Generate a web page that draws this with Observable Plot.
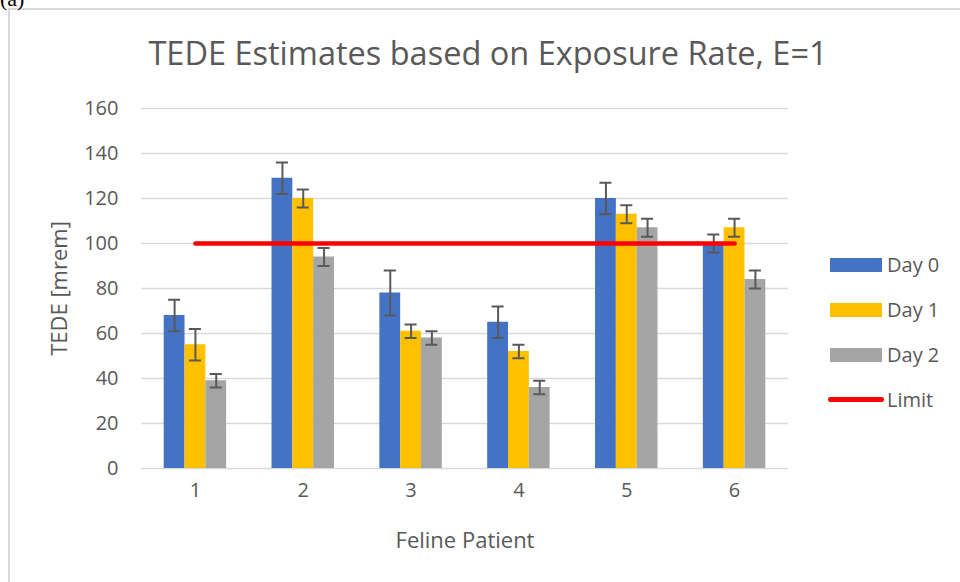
<!DOCTYPE html>
<html>
<head>
<meta charset="utf-8">
<script src="https://cdn.jsdelivr.net/npm/d3@7"></script>
<script src="https://cdn.jsdelivr.net/npm/@observablehq/plot@0.6"></script>
<style>
  html, body { margin: 0; padding: 0; background: #fff; }
  #wrap { position: relative; width: 960px; height: 582px; overflow: hidden; font-family: "Open Sans", sans-serif; color: #595959; }
  #frame { position: absolute; left: 8px; top: 8px; width: 980px; height: 600px; border-left: 2px solid #d9d9d9; border-top: 2px solid #d9d9d9; box-sizing: border-box; }
  #tag { position: absolute; left: 0px; top: -14px; font-family: "Liberation Serif", serif; font-size: 22px; color: #000; }
  #title { position: absolute; left: 0; width: 976px; top: 31px; text-align: center; font-size: 32.5px; line-height: 44px; }
  #chart { position: absolute; left: 0; top: 0; }
  #legend { position: absolute; left: 828px; top: 251px; font-size: 20px; }
  .item { position: relative; height: 45px; }
  .sw { position: absolute; left: 2px; top: 7px; width: 52px; height: 14px; }
  .ln { position: absolute; left: 0px; top: 11px; width: 56px; height: 5px; border-radius: 3px; background: #ff0000; }
  .lab { position: absolute; left: 59px; top: 0px; white-space: nowrap; line-height: 28px; }
</style>
</head>
<body>
<div id="wrap">
  <div id="frame"></div>
  <div id="tag">(a)</div>
  <div id="chart"></div>
  <div id="title">TEDE Estimates based on Exposure Rate, E=1</div>
  <div id="legend"></div>
</div>
<script>
const patients = [1, 2, 3, 4, 5, 6];
const days = ["Day 0", "Day 1", "Day 2"];
const colors = ["#4472C4", "#FFC000", "#A5A5A5"];
const day0 = [68, 129, 78, 65, 120, 100];
const day1 = [55, 120, 61, 52, 113, 107];
const day2 = [39, 94, 58, 36, 107, 84];
const err0 = [7, 7, 10, 7, 7, 4];
const err1 = [7, 4, 3, 3, 4, 4];
const err2 = [3, 4, 3, 3, 4, 4];
const limitValue = 100;
const yTicks = [0, 20, 40, 60, 80, 100, 120, 140, 160];

const barW = 0.193;
const capHalf = 0.056;
const series = [day0, day1, day2];
const errs = [err0, err1, err2];
const rows = [];
days.forEach((d, di) => {
  patients.forEach((p, pi) => {
    const c = p + (di - 1) * barW;
    rows.push({day: d, patient: p, value: series[di][pi], err: errs[di][pi],
               x1: c - barW / 2, x2: c + barW / 2, xc: c});
  });
});
const limit = [{x: patients[0], y: limitValue}, {x: patients[patients.length - 1], y: limitValue}];

const plot = Plot.plot({
  width: 960,
  height: 582,
  marginLeft: 141,
  marginRight: 172,
  marginTop: 108,
  marginBottom: 114,
  style: {fontFamily: "Open Sans, sans-serif", color: "#595959", background: "transparent"},
  x: {domain: [0.5, 6.5], axis: null},
  y: {domain: [0, 160], axis: null},
  color: {domain: days, range: colors},
  marks: [
    Plot.ruleY(yTicks, {stroke: "#d9d9d9", strokeWidth: 1.5}),
    Plot.rectY(rows, {x1: "x1", x2: "x2", y: "value", fill: "day"}),
    Plot.ruleX(rows, {x: "xc", y1: d => d.value - d.err, y2: d => d.value + d.err, stroke: "#595959", strokeWidth: 2}),
    Plot.ruleY(rows, {x1: d => d.xc - capHalf, x2: d => d.xc + capHalf, y: d => d.value + d.err, stroke: "#595959", strokeWidth: 2}),
    Plot.ruleY(rows, {x1: d => d.xc - capHalf, x2: d => d.xc + capHalf, y: d => d.value - d.err, stroke: "#595959", strokeWidth: 2}),
    Plot.line(limit, {x: "x", y: "y", stroke: "#ff0000", strokeWidth: 4.5, strokeLinecap: "round"}),
    Plot.text(yTicks, {y: d => d, frameAnchor: "left", textAnchor: "end", lineAnchor: "middle", dx: -23, fontSize: 20, fill: "#595959", text: d => String(d)}),
    Plot.text(patients, {x: d => d, frameAnchor: "bottom", textAnchor: "middle", lineAnchor: "middle", dy: 22, fontSize: 20, fill: "#595959", text: d => String(d)}),
    Plot.text(["TEDE [mrem]"], {frameAnchor: "left", textAnchor: "middle", lineAnchor: "middle", dx: -82, rotate: -90, fontSize: 22, fill: "#595959", text: d => d}),
    Plot.text(["Feline Patient"], {frameAnchor: "bottom", textAnchor: "middle", lineAnchor: "middle", dy: 72, fontSize: 22, fill: "#595959", text: d => d})
  ]
});
document.getElementById("chart").appendChild(plot);

const legend = document.getElementById("legend");
days.forEach((d, i) => {
  const it = document.createElement("div");
  it.className = "item";
  it.innerHTML = `<div class="sw" style="background:${colors[i]}"></div><div class="lab">${d}</div>`;
  legend.appendChild(it);
});
const li = document.createElement("div");
li.className = "item";
li.innerHTML = `<div class="ln"></div><div class="lab">Limit</div>`;
legend.appendChild(li);
</script>
</body>
</html>
